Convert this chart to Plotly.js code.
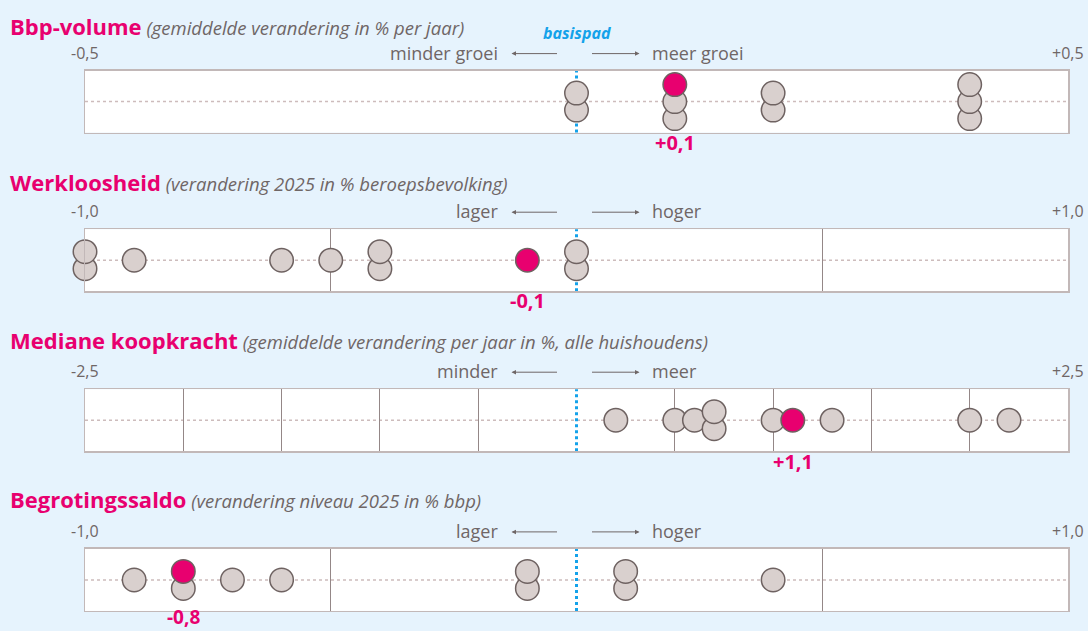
<!DOCTYPE html>
<html>
<head>
<meta charset="utf-8">
<script src="https://cdn.plot.ly/plotly-3.0.1.min.js"></script>
<style>
  html, body { margin: 0; padding: 0; background: #e6f3fd; }
  #plot { width: 1088px; height: 631px; }
</style>
</head>
<body>
<div id="plot"></div>
<script>
// ─────────────────────────────────────────────────────
// Data: one dot per scenario, highlighted dot = chosen pakket
// ─────────────────────────────────────────────────────
const panelTitles = ['Bbp-volume', 'Werkloosheid', 'Mediane koopkracht', 'Begrotingssaldo'];
const panelSubtitles = [
    '(gemiddelde verandering in % per jaar)',
    '(verandering 2025 in % beroepsbevolking)',
    '(gemiddelde verandering per jaar in %, alle huishoudens)',
    '(verandering niveau 2025 in % bbp)'
];

const bbpValues = [0, 0, 0.1, 0.1, 0.2, 0.2, 0.4, 0.4, 0.4];
const bbpHighlight = 0.1;

const wlValues = [-1.0, -1.0, -0.9, -0.6, -0.5, -0.4, -0.4, 0, 0];
const wlHighlight = -0.1;

const kkValues = [0.2, 0.5, 0.6, 0.7, 0.7, 1.0, 1.3, 2.0, 2.2];
const kkHighlight = 1.1;

const bsValues = [-0.9, -0.8, -0.7, -0.6, -0.1, -0.1, 0.1, 0.1, 0.4];
const bsHighlight = -0.8;

const rangeMin = [-0.5, -1.0, -2.5, -1.0];
const rangeMax = [0.5, 1.0, 2.5, 1.0];
const rangeMinLabels = ['-0,5', '-1,0', '-2,5', '-1,0'];
const rangeMaxLabels = ['+0,5', '+1,0', '+2,5', '+1,0'];
const leftLabels = ['minder groei', 'lager', 'minder', 'lager'];
const rightLabels = ['meer groei', 'hoger', 'meer', 'hoger'];
const highlightLabels = ['+0,1', '-0,1', '+1,1', '-0,8'];

const panelValues = [bbpValues, wlValues, kkValues, bsValues];
const panelHighlights = [bbpHighlight, wlHighlight, kkHighlight, bsHighlight];

// ─────────────────────────────────────────────────────
// Styling
// ─────────────────────────────────────────────────────
const W = 1088, H = 631;
const BG = '#e6f3fd';
const MAGENTA = '#e8006f';
const BLUE = '#14a2ea';
const TEXT = '#6f6666';
const DOT_FILL = '#d9d0ce';
const DOT_LINE = '#6e6261';
const FONT = '"Open Sans", sans-serif';

const boxLeft = 85, boxRight = 1068;
const boxTops = [70.6, 229.2, 389.2, 548.9];
const titleShift = [45, 47, 49, 50];
const labelShift = [-10, -9, -10, -6];
const labelSize = [20, 20, 20, 19];
const boxH = 62;
const STEP = 17; // vertical offset between stacked dots (px)

// stack equal values vertically, highlight on top
function stackDots(values, highlight) {
    const key = v => v.toFixed(2);
    const groups = {};
    values.forEach(v => { (groups[key(v)] = groups[key(v)] || []).push(v); });
    const gx = [], gy = [];
    let hy = 0;
    const hk = key(highlight);
    const keys = new Set([...Object.keys(groups), hk]);
    keys.forEach(k => {
        const n = (groups[k] ? groups[k].length : 0) + (k === hk ? 1 : 0);
        const g = groups[k] || [];
        g.forEach((v, i) => {
            gx.push(v);
            gy.push((i - (n - 1) / 2) * STEP);
        });
        if (k === hk) hy = (n - 1 - (n - 1) / 2) * STEP;
    });
    return { gx, gy, hy };
}

// grid every 0.5, the basispad line takes the place of 0
function gridVals(lo, hi) {
    const r = [];
    for (let v = lo + 0.5; v < hi - 1e-9; v += 0.5) {
        if (Math.abs(v) > 1e-9) r.push(+v.toFixed(2));
    }
    return r;
}

const traces = [];
const layout = {
    width: W, height: H,
    margin: { l: 0, r: 0, t: 0, b: 0 },
    paper_bgcolor: BG,
    plot_bgcolor: '#ffffff',
    showlegend: false,
    hovermode: false,
    font: { family: FONT, color: TEXT },
    annotations: [],
    shapes: []
};

for (let i = 0; i < 4; i++) {
    const s = i === 0 ? '' : String(i + 1);
    const xa = 'x' + s, ya = 'y' + s;
    const top = boxTops[i], bottom = top + boxH;

    layout['xaxis' + s] = {
        domain: [boxLeft / W, boxRight / W],
        range: [rangeMin[i], rangeMax[i]],
        anchor: ya,
        tickmode: 'array',
        tickvals: gridVals(rangeMin[i], rangeMax[i]),
        showgrid: true, gridcolor: '#948787', gridwidth: 1,
        zeroline: false,
        showticklabels: false, ticks: '',
        showline: true, mirror: true, linecolor: '#c2b8b8', linewidth: 1.5,
        fixedrange: true
    };
    layout['yaxis' + s] = {
        domain: [1 - bottom / H, 1 - top / H],
        range: [-boxH / 2, boxH / 2],
        anchor: xa,
        showgrid: false, zeroline: false,
        showticklabels: false, ticks: '',
        showline: true, mirror: true, linecolor: '#c2b8b8', linewidth: 1.5,
        fixedrange: true
    };

    const { gx, gy, hy } = stackDots(panelValues[i], panelHighlights[i]);
    traces.push({
        x: gx, y: gy, xaxis: xa, yaxis: ya,
        type: 'scatter', mode: 'markers', cliponaxis: false,
        marker: { size: 23.5, color: DOT_FILL, line: { color: DOT_LINE, width: 1.5 } }
    });
    traces.push({
        x: [panelHighlights[i]], y: [hy], xaxis: xa, yaxis: ya,
        type: 'scatter', mode: 'markers', cliponaxis: false,
        marker: { size: 23.5, color: MAGENTA, line: { color: DOT_LINE, width: 1.5 } }
    });

    // dotted centre line and basispad line
    layout.shapes.push({
        type: 'line', layer: 'below', xref: xa + ' domain', yref: ya,
        x0: 0, x1: 1, y0: 0, y1: 0,
        line: { color: '#cdbcbc', width: 1.5, dash: 'dot' }
    });
    layout.shapes.push({
        type: 'line', layer: 'below', xref: xa, yref: ya + ' domain',
        x0: 0, x1: 0, y0: 0, y1: 1,
        line: { color: BLUE, width: 3, dash: 'dot' }
    });

    const ann = layout.annotations;
    // title
    ann.push({
        xref: 'paper', yref: ya + ' domain', x: 8 / W, y: 1, yshift: titleShift[i],
        xanchor: 'left', yanchor: 'middle', showarrow: false,
        text: `<b><span style="color:${MAGENTA};font-size:22px">${panelTitles[i]}</span></b> <i>${panelSubtitles[i]}</i>`,
        font: { size: 18.5, color: TEXT }
    });
    // range labels
    ann.push({
        xref: xa, yref: ya + ' domain', x: rangeMin[i], y: 1, yshift: 18,
        xanchor: 'center', yanchor: 'middle', showarrow: false,
        text: rangeMinLabels[i], font: { size: 16, color: TEXT }
    });
    ann.push({
        xref: xa, yref: ya + ' domain', x: rangeMax[i], y: 1, yshift: 18,
        xanchor: 'center', yanchor: 'middle', showarrow: false,
        text: rangeMaxLabels[i], font: { size: 16, color: TEXT }
    });
    // direction labels and arrows
    ann.push({
        xref: xa, yref: ya + ' domain', x: 0, y: 1, yshift: 18, xshift: -77,
        xanchor: 'right', yanchor: 'middle', showarrow: false,
        text: leftLabels[i], font: { size: 18, color: TEXT }
    });
    ann.push({
        xref: xa, yref: ya + ' domain', x: 0, y: 1, yshift: 18, xshift: 73,
        xanchor: 'left', yanchor: 'middle', showarrow: false,
        text: rightLabels[i], font: { size: 18, color: TEXT }
    });
    ann.push({
        xref: xa, yref: ya + ' domain', x: 0, y: 1, yshift: 17, xshift: -65,
        text: '', showarrow: true, ax: 47, ay: 0,
        arrowhead: 2, arrowsize: 0.9, arrowwidth: 1, arrowcolor: TEXT
    });
    ann.push({
        xref: xa, yref: ya + ' domain', x: 0, y: 1, yshift: 17, xshift: 63,
        text: '', showarrow: true, ax: -49, ay: 0,
        arrowhead: 2, arrowsize: 0.9, arrowwidth: 1, arrowcolor: TEXT
    });
    // highlight value
    ann.push({
        xref: xa, yref: ya + ' domain', x: panelHighlights[i], y: 0, yshift: labelShift[i],
        xanchor: 'center', yanchor: 'middle', showarrow: false,
        text: `<b>${highlightLabels[i]}</b>`, font: { size: labelSize[i], color: MAGENTA }
    });
    if (i === 0) {
        ann.push({
            xref: xa, yref: ya + ' domain', x: 0, y: 1, yshift: 38,
            xanchor: 'center', yanchor: 'middle', showarrow: false,
            text: '<b><i>basispad</i></b>', font: { size: 16, color: BLUE }
        });
    }
}

Plotly.newPlot('plot', traces, layout, { displayModeBar: false, staticPlot: true });
</script>
</body>
</html>
